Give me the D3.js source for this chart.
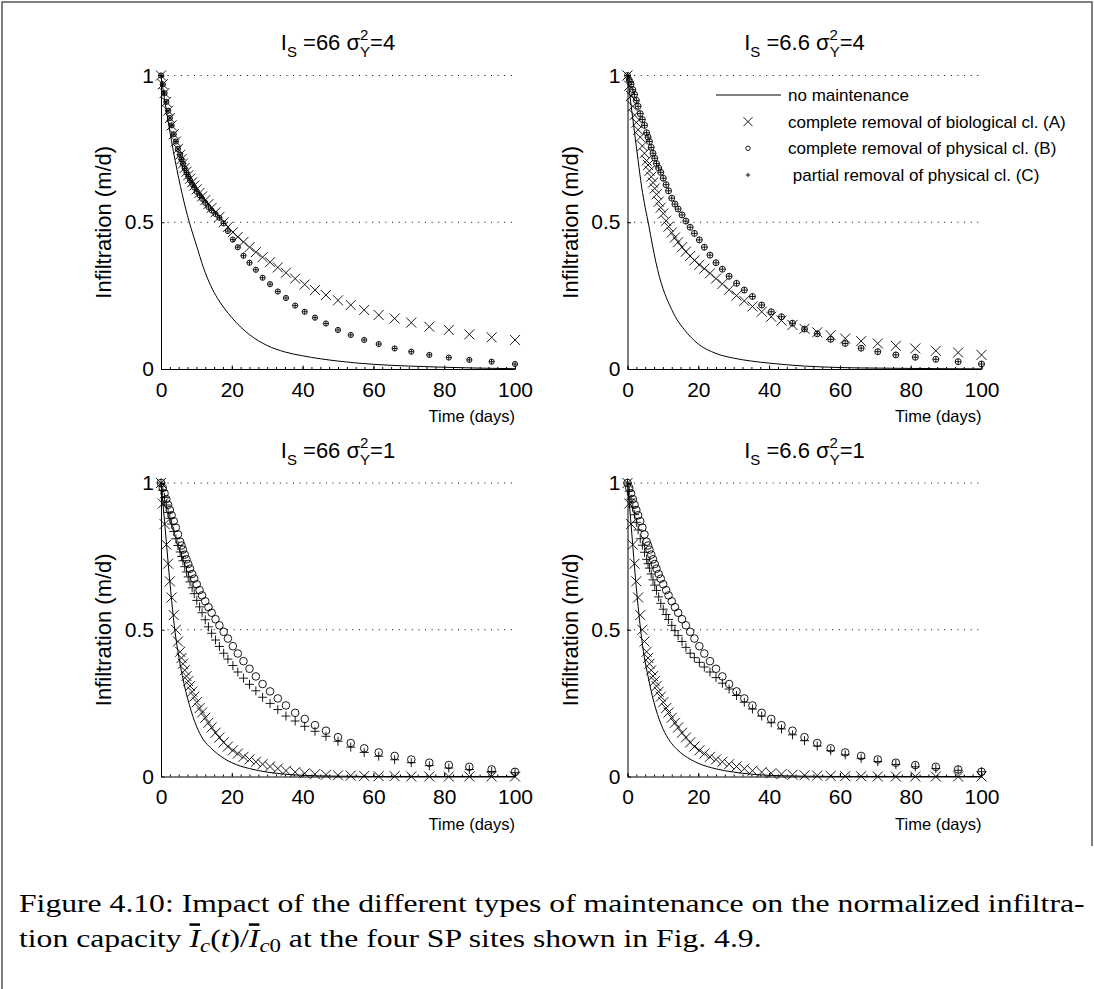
<!DOCTYPE html>
<html>
<head>
<meta charset="utf-8">
<script src="https://cdn.jsdelivr.net/npm/d3@7"></script>
<style>
  body { margin: 0; background: #fff; }
  svg { display: block; }
  text { font-family: "Liberation Sans", Arial, sans-serif; fill: #000; white-space: pre; }
</style>
</head>
<body>
<div id="graph"></div>
<script>
// sample times of the markers (days)
const times = [0, 0.5, 1.0, 1.5, 2.0, 2.5, 3.0, 3.6, 4.2, 4.8,
  5.4, 5.8, 6.2, 6.7, 7.2, 7.7, 8.2, 8.8, 9.4, 10.1,
  10.9, 11.6, 12.5, 13.4, 14.3, 15.4, 16.5, 17.7, 18.9, 20.3,
  21.7, 23.3, 25.0, 26.8, 28.7, 30.8, 33.0, 35.3, 37.9, 40.6,
  43.5, 46.6, 50.0, 53.6, 57.4, 61.5, 66.0, 70.7, 75.8, 81.3,
  87.1, 93.4, 100];

// sample times of the solid line (days)
const lineTimes = [0, 1, 2, 3, 4, 5, 6, 7, 8, 9, 10, 12, 14, 16, 18, 20, 25, 30, 35, 40, 50, 60, 70, 80, 90, 100];

const xTicks = [0, 20, 40, 60, 80, 100];
const yTicks = [0, 0.5, 1];
const yTickLabels = ["0", "0.5", "1"];

const titleIs = ["66", "6.6", "66", "6.6"];
const titleSigma = ["4", "4", "1", "1"];

const legendLabels = [
  "no maintenance",
  "complete removal of biological cl. (A)",
  "complete removal of physical cl. (B)",
  " partial removal of physical cl. (C)"
];

// I_S = 66, sigma^2 = 4
const lineTL = [1, 0.92, 0.845, 0.775, 0.71, 0.65, 0.595, 0.545, 0.5, 0.46, 0.422, 0.345, 0.285, 0.24, 0.205, 0.175, 0.117, 0.08, 0.058, 0.045, 0.027, 0.016, 0.01, 0.006, 0.003, 0.001];
const bioTL = [1.0, 0.97, 0.94, 0.91, 0.88, 0.855, 0.83, 0.80, 0.775, 0.75,
  0.73, 0.715, 0.70, 0.685, 0.672, 0.66, 0.648, 0.636, 0.625, 0.612,
  0.60, 0.588, 0.575, 0.562, 0.549, 0.534, 0.518, 0.50, 0.484, 0.466,
  0.45, 0.433, 0.415, 0.398, 0.381, 0.364, 0.346, 0.328, 0.308, 0.288,
  0.269, 0.252, 0.234, 0.218, 0.201, 0.184, 0.172, 0.158, 0.144, 0.133,
  0.118, 0.108, 0.099];
const physTL = [1.0, 0.97, 0.94, 0.91, 0.88, 0.855, 0.83, 0.80, 0.775, 0.75,
  0.73, 0.714, 0.699, 0.683, 0.669, 0.656, 0.643, 0.63, 0.618, 0.604,
  0.592, 0.58, 0.566, 0.552, 0.54, 0.528, 0.515, 0.496, 0.47, 0.441,
  0.415, 0.386, 0.362, 0.338, 0.311, 0.289, 0.264, 0.242, 0.216, 0.195,
  0.175, 0.155, 0.133, 0.116, 0.099, 0.085, 0.07, 0.059, 0.048, 0.039,
  0.031, 0.025, 0.017];
const partTL = [1.0, 0.97, 0.94, 0.91, 0.88, 0.855, 0.83, 0.80, 0.775, 0.75,
  0.73, 0.714, 0.699, 0.683, 0.669, 0.656, 0.643, 0.63, 0.618, 0.604,
  0.592, 0.58, 0.566, 0.552, 0.54, 0.528, 0.515, 0.496, 0.47, 0.441,
  0.415, 0.386, 0.362, 0.338, 0.311, 0.289, 0.264, 0.242, 0.216, 0.195,
  0.175, 0.155, 0.133, 0.116, 0.099, 0.085, 0.07, 0.059, 0.048, 0.039,
  0.031, 0.025, 0.017];

// I_S = 6.6, sigma^2 = 4
const lineTR = [1, 0.90, 0.805, 0.71, 0.62, 0.55, 0.49, 0.425, 0.365, 0.315, 0.275, 0.215, 0.168, 0.135, 0.107, 0.085, 0.053, 0.037, 0.027, 0.02, 0.01, 0.005, 0.003, 0.002, 0.001, 0.0005];
const bioTR = [1.0, 0.965, 0.93, 0.895, 0.865, 0.84, 0.815, 0.79, 0.76, 0.735,
  0.71, 0.695, 0.675, 0.655, 0.635, 0.615, 0.595, 0.57, 0.55, 0.53,
  0.505, 0.485, 0.465, 0.448, 0.432, 0.415, 0.40, 0.385, 0.37, 0.355,
  0.342, 0.326, 0.308, 0.29, 0.27, 0.25, 0.232, 0.213, 0.195, 0.178,
  0.165, 0.15, 0.137, 0.125, 0.115, 0.104, 0.095, 0.087, 0.079, 0.07,
  0.062, 0.056, 0.048];
const physTR = [1.0, 0.985, 0.97, 0.952, 0.935, 0.915, 0.895, 0.87, 0.85, 0.83,
  0.805, 0.79, 0.775, 0.755, 0.735, 0.718, 0.70, 0.685, 0.67, 0.65,
  0.628, 0.607, 0.582, 0.562, 0.545, 0.525, 0.504, 0.483, 0.462, 0.44,
  0.415, 0.388, 0.362, 0.34, 0.316, 0.292, 0.269, 0.247, 0.218, 0.195,
  0.178, 0.156, 0.136, 0.12, 0.101, 0.087, 0.071, 0.059, 0.048, 0.04,
  0.033, 0.025, 0.017];
const partTR = [1.0, 0.985, 0.97, 0.952, 0.935, 0.915, 0.895, 0.87, 0.85, 0.83,
  0.805, 0.79, 0.775, 0.755, 0.735, 0.718, 0.70, 0.685, 0.67, 0.65,
  0.628, 0.607, 0.582, 0.562, 0.545, 0.525, 0.504, 0.483, 0.462, 0.44,
  0.415, 0.388, 0.362, 0.34, 0.316, 0.292, 0.269, 0.247, 0.218, 0.195,
  0.178, 0.156, 0.136, 0.12, 0.101, 0.087, 0.071, 0.059, 0.048, 0.04,
  0.033, 0.025, 0.017];

// I_S = 66, sigma^2 = 1
const lineBL = [1, 0.87, 0.73, 0.60, 0.49, 0.41, 0.345, 0.29, 0.245, 0.205, 0.172, 0.125, 0.098, 0.077, 0.06, 0.047, 0.027, 0.015, 0.008, 0.004, 0.001, 0, 0, 0, 0, 0];
const bioBL = [1.0, 0.93, 0.86, 0.79, 0.725, 0.665, 0.61, 0.55, 0.50, 0.46,
  0.425, 0.404, 0.384, 0.362, 0.342, 0.325, 0.308, 0.289, 0.272, 0.253,
  0.233, 0.218, 0.20, 0.183, 0.167, 0.149, 0.133, 0.116, 0.102, 0.089,
  0.078, 0.067, 0.058, 0.05, 0.042, 0.034, 0.027, 0.02, 0.015, 0.011,
  0.008, 0.006, 0.004, 0.003, 0.002, 0.001, 0.001, 0, 0, 0,
  0, 0, 0];
const physBL = [1.0, 0.983, 0.965, 0.945, 0.926, 0.908, 0.89, 0.87, 0.848, 0.825,
  0.80, 0.787, 0.773, 0.756, 0.74, 0.724, 0.708, 0.69, 0.674, 0.655,
  0.635, 0.617, 0.597, 0.577, 0.558, 0.536, 0.515, 0.493, 0.47, 0.444,
  0.419, 0.393, 0.367, 0.341, 0.315, 0.29, 0.266, 0.242, 0.217, 0.196,
  0.175, 0.156, 0.134, 0.114, 0.096, 0.082, 0.07, 0.058, 0.047, 0.039,
  0.033, 0.024, 0.016];
const partBL = [1.0, 0.975, 0.95, 0.925, 0.9, 0.88, 0.86, 0.835, 0.81, 0.787,
  0.765, 0.75, 0.735, 0.715, 0.697, 0.68, 0.663, 0.643, 0.623, 0.60,
  0.578, 0.558, 0.534, 0.51, 0.488, 0.465, 0.443, 0.42, 0.40, 0.378,
  0.356, 0.335, 0.314, 0.292, 0.27, 0.249, 0.228, 0.206, 0.189, 0.171,
  0.154, 0.137, 0.12, 0.1, 0.082, 0.069, 0.057, 0.047, 0.037, 0.029,
  0.024, 0.017, 0.013];

// I_S = 6.6, sigma^2 = 1
const lineBR = [1, 0.86, 0.71, 0.58, 0.47, 0.39, 0.33, 0.275, 0.23, 0.193, 0.163, 0.12, 0.092, 0.072, 0.057, 0.045, 0.026, 0.015, 0.008, 0.004, 0.001, 0, 0, 0, 0, 0];
const bioBR = [1.0, 0.93, 0.86, 0.79, 0.725, 0.665, 0.61, 0.55, 0.50, 0.46,
  0.425, 0.404, 0.384, 0.362, 0.342, 0.325, 0.308, 0.289, 0.272, 0.253,
  0.233, 0.218, 0.20, 0.183, 0.167, 0.149, 0.133, 0.116, 0.102, 0.089,
  0.078, 0.067, 0.058, 0.05, 0.042, 0.034, 0.027, 0.02, 0.015, 0.011,
  0.008, 0.006, 0.004, 0.003, 0.002, 0.001, 0.001, 0, 0, 0,
  0, 0, 0];
const physBR = [1.0, 0.983, 0.965, 0.945, 0.926, 0.908, 0.89, 0.87, 0.848, 0.825,
  0.80, 0.787, 0.773, 0.756, 0.74, 0.724, 0.708, 0.69, 0.674, 0.655,
  0.635, 0.617, 0.597, 0.577, 0.558, 0.536, 0.515, 0.493, 0.47, 0.444,
  0.419, 0.393, 0.367, 0.341, 0.315, 0.29, 0.266, 0.242, 0.217, 0.196,
  0.175, 0.156, 0.134, 0.114, 0.096, 0.082, 0.07, 0.058, 0.047, 0.039,
  0.033, 0.024, 0.016];
const partBR = [1.0, 0.972, 0.945, 0.918, 0.892, 0.866, 0.84, 0.81, 0.788, 0.764,
  0.74, 0.725, 0.71, 0.69, 0.67, 0.652, 0.634, 0.612, 0.59, 0.57,
  0.552, 0.535, 0.515, 0.497, 0.48, 0.46, 0.44, 0.42, 0.405, 0.389,
  0.373, 0.356, 0.337, 0.318, 0.298, 0.276, 0.253, 0.23, 0.206, 0.183,
  0.162, 0.142, 0.122, 0.104, 0.088, 0.074, 0.062, 0.051, 0.041, 0.033,
  0.027, 0.021, 0.016];

const w = 1094;
const h = 989;

const panels = [
  { left: 161, right: 515, top: 75.5, bottom: 369, line: lineTL, bio: bioTL, phys: physTL, part: partTL, rO: 2.6, hP: 2.6 },
  { left: 627.5, right: 981.5, top: 75.5, bottom: 369, line: lineTR, bio: bioTR, phys: physTR, part: partTR, rO: 3, hP: 3, legend: true },
  { left: 161, right: 515, top: 483, bottom: 776.5, line: lineBL, bio: bioBL, phys: physBL, part: partBL, rO: 3.8, hP: 4.5 },
  { left: 627.5, right: 981.5, top: 483, bottom: 776.5, line: lineBR, bio: bioBR, phys: physBR, part: partBR, rO: 3.8, hP: 4.5 }
];

const svg = d3.select("#graph")
  .append("svg")
  .attr("width", w)
  .attr("height", h);

// page frame
svg.append("path")
  .attr("d", "M2,989V2H1092V846")
  .attr("fill", "none")
  .attr("stroke", "#555")
  .attr("stroke-width", 1.5);

const crossPath = (s) => `M${-s},${-s}L${s},${s}M${-s},${s}L${s},${-s}`;
const plusPath = (s) => `M${-s},0H${s}M0,${-s}V${s}`;

panels.forEach(function (p, k) {
  const x = d3.scaleLinear().domain([0, 100]).range([p.left, p.right]);
  const y = d3.scaleLinear().domain([0, 1]).range([p.bottom, p.top]);
  const g = svg.append("g");

  // dotted grid at the y ticks
  g.selectAll(".grid")
    .data(yTicks.filter((d) => d > 0))
    .enter()
    .append("line")
    .attr("x1", x(0))
    .attr("x2", x(100))
    .attr("y1", (d) => y(d))
    .attr("y2", (d) => y(d))
    .attr("stroke", "#000")
    .attr("stroke-width", 1)
    .attr("stroke-dasharray", "1,5.6");

  // minor ticks
  g.append("g")
    .attr("transform", `translate(0,${p.bottom})`)
    .call(d3.axisBottom(x).tickValues(d3.range(0, 101, 2.5)).tickSize(-2).tickFormat(""))
    .call((a) => a.select(".domain").remove());

  const xAxis = d3.axisBottom(x).tickValues(xTicks).tickSizeInner(-3.5).tickSizeOuter(0).tickPadding(13);
  g.append("g")
    .attr("transform", `translate(0,${p.bottom})`)
    .call(xAxis)
    .attr("font-size", 21)
    .attr("font-family", "Liberation Sans, Arial, sans-serif");

  const yAxis = d3.axisLeft(y).tickValues(yTicks).tickFormat((d, i) => yTickLabels[i])
    .tickSizeInner(-3.5).tickSizeOuter(0).tickPadding(7);
  g.append("g")
    .attr("transform", `translate(${p.left},0)`)
    .call(yAxis)
    .attr("font-size", 21)
    .attr("font-family", "Liberation Sans, Arial, sans-serif");

  g.selectAll(".tick line, .domain").attr("stroke", "#000").attr("stroke-width", 1);

  // title  I_S =.. sigma_Y^2=..
  const cx = (p.left + p.right) / 2;
  const title = g.append("text")
    .attr("x", cx)
    .attr("y", p.top - 25.5)
    .attr("text-anchor", "middle")
    .style("font-size", "22px");
  title.append("tspan").text("I");
  title.append("tspan").attr("dy", 7).style("font-size", "15px").text("S");
  title.append("tspan").attr("dy", -7).text(" =" + titleIs[k] + " σ");
  title.append("tspan").attr("dy", -10).style("font-size", "15px").text("2");
  title.append("tspan").attr("dx", -8.3).attr("dy", 17).style("font-size", "15px").text("Y");
  title.append("tspan").attr("dy", -7).text("=" + titleSigma[k]);

  g.append("text")
    .attr("transform", `translate(${p.left - 50},${(p.top + p.bottom) / 2}) rotate(-90)`)
    .attr("text-anchor", "middle")
    .style("font-size", "22px")
    .text("Infiltration (m/d)");

  g.append("text")
    .attr("x", p.right)
    .attr("y", p.bottom + 53)
    .attr("text-anchor", "end")
    .style("font-size", "16.5px")
    .text("Time (days)");

  // no maintenance
  const line = d3.line()
    .x((d, i) => x(lineTimes[i]))
    .y((d) => y(d))
    .curve(d3.curveMonotoneX);
  g.append("path")
    .datum(p.line)
    .attr("d", line)
    .attr("fill", "none")
    .attr("stroke", "#000")
    .attr("stroke-width", 1);

  // (A) crosses
  g.append("g").selectAll("path")
    .data(p.bio)
    .enter()
    .append("path")
    .attr("transform", (d, i) => `translate(${x(times[i])},${y(d)})`)
    .attr("d", crossPath(5))
    .attr("fill", "none")
    .attr("stroke", "#000")
    .attr("stroke-width", 0.9);

  // (B) circles
  g.append("g").selectAll("circle")
    .data(p.phys)
    .enter()
    .append("circle")
    .attr("cx", (d, i) => x(times[i]))
    .attr("cy", (d) => y(d))
    .attr("r", p.rO)
    .attr("fill", "none")
    .attr("stroke", "#000")
    .attr("stroke-width", 0.9);

  // (C) pluses
  g.append("g").selectAll("path")
    .data(p.part)
    .enter()
    .append("path")
    .attr("transform", (d, i) => `translate(${x(times[i])},${y(d)})`)
    .attr("d", plusPath(p.hP))
    .attr("fill", "none")
    .attr("stroke", "#000")
    .attr("stroke-width", 0.9);

  if (p.legend) {
    const rows = [95, 121.7, 148.3, 175];
    const lg = g.append("g");
    lg.append("line")
      .attr("x1", 716).attr("x2", 781)
      .attr("y1", rows[0]).attr("y2", rows[0])
      .attr("stroke", "#000");
    lg.append("path").attr("transform", `translate(748,${rows[1]})`).attr("d", crossPath(4.5))
      .attr("stroke", "#000").attr("stroke-width", 0.9);
    lg.append("circle").attr("cx", 748).attr("cy", rows[2]).attr("r", 2.2)
      .attr("fill", "none").attr("stroke", "#000").attr("stroke-width", 0.9);
    lg.append("path").attr("transform", `translate(748,${rows[3]})`).attr("d", plusPath(2.2))
      .attr("stroke", "#000").attr("stroke-width", 0.9);
    lg.selectAll("text")
      .data(legendLabels)
      .enter()
      .append("text")
      .attr("x", 788)
      .attr("y", (d, i) => rows[i])
      .attr("dy", "0.35em")
      .style("font-size", "17px")
      .text((d) => d);
  }
});

// caption
const serif = "'Liberation Serif', 'Times New Roman', serif";
const cap1 = svg.append("text")
  .attr("x", 0)
  .attr("y", 912)
  .style("font-family", serif)
  .style("font-size", "25px")
  .text("Figure 4.10: Impact of the different types of maintenance on the normalized infiltra-");

const cap2 = svg.append("text")
  .attr("x", 0)
  .attr("y", 947)
  .style("font-family", serif)
  .style("font-size", "25px");
cap2.append("tspan").text("tion capacity ");
cap2.append("tspan").style("font-style", "italic").style("text-decoration", "overline").text("I");
cap2.append("tspan").attr("dy", 5).style("font-style", "italic").style("font-size", "18px").text("c");
cap2.append("tspan").attr("dy", -5).text("(");
cap2.append("tspan").style("font-style", "italic").text("t");
cap2.append("tspan").text(")/");
cap2.append("tspan").style("font-style", "italic").style("text-decoration", "overline").text("I");
cap2.append("tspan").attr("dy", 5).style("font-style", "italic").style("font-size", "18px").text("c");
cap2.append("tspan").style("font-size", "18px").text("0");
cap2.append("tspan").attr("dy", -5).text(" at the four SP sites shown in Fig. 4.9.");

const kx = 1066 / cap1.node().getComputedTextLength();
cap1.attr("transform", `translate(19,0) scale(${kx},1)`);
cap2.attr("transform", `translate(19,0) scale(${kx},1)`);
</script>
</body>
</html>
